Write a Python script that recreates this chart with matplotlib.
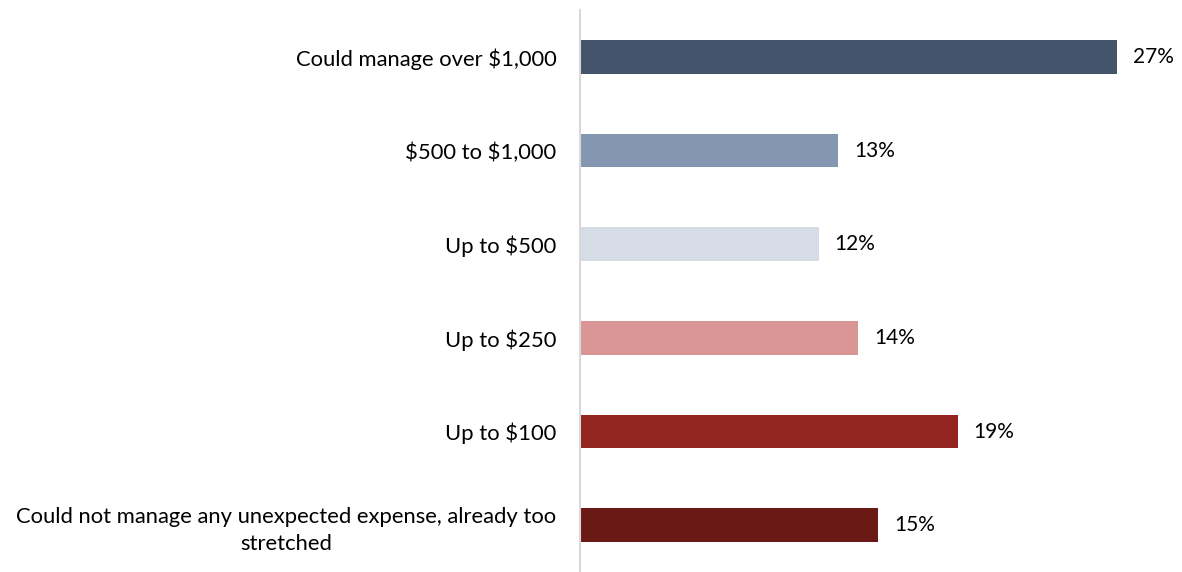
import matplotlib.pyplot as plt

plt.rcParams['font.family'] = ['Lato', 'DejaVu Sans']
plt.rcParams['text.parse_math'] = False

categories = [
    'Could manage over $1,000',
    '$500 to $1,000',
    'Up to $500',
    'Up to $250',
    'Up to $100',
    'Could not manage any unexpected expense, already too\nstretched',
]
values = [27, 13, 12, 14, 19, 15]
colors = ['#44546A', '#8497B0', '#D6DCE5', '#DA9694', '#922520', '#6B1915']

fig = plt.figure(figsize=(11.82, 5.72), dpi=100)
ax = fig.add_axes([0.4907, 0.0, 0.5045, 0.9825])

y = list(range(len(categories)))
ax.barh(y, values, height=0.36, color=colors)
for yi, v in zip(y, values):
    ax.text(v + 0.8, yi, f'{v}%', va='center', ha='left', fontsize=15, color='#000000')

ax.set_xlim(0, 30)
ax.set_ylim(len(categories) - 0.5, -0.5)
ax.set_yticks(y)
ax.set_yticklabels(categories, fontsize=15.8, ha='right', multialignment='center',
                   linespacing=1.45)
ax.tick_params(axis='y', length=0, pad=17)
ax.set_xticks([])
for side in ['top', 'right', 'bottom']:
    ax.spines[side].set_visible(False)
ax.spines['left'].set_color('#D9D9D9')
ax.spines['left'].set_linewidth(1.5)

fig.savefig('out.png', dpi=100)
